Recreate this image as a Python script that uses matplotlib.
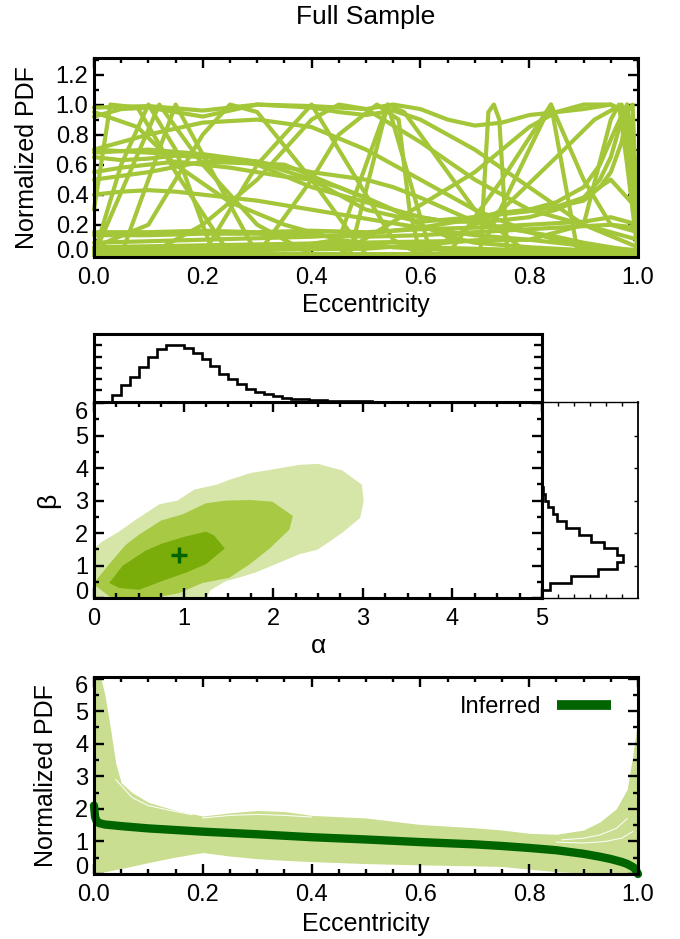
import matplotlib
matplotlib.use('Agg')
import matplotlib.pyplot as plt
from matplotlib.ticker import FixedLocator, MultipleLocator, FormatStrFormatter
from matplotlib.transforms import ScaledTranslation

FONT = ['Liberation Sans', 'DejaVu Sans']
plt.rcParams['font.family'] = FONT

# ---------------- data: top panel (individual normalized PDFs) ----------------
c01_e = [0, .1, .2, .3, .4, .5, .55, .6, .65, .7, .75, .8, .85, .9, .95, .97, 1.0]
c01_p = [.98, .99, .96, 1.0, .99, .97, 1.0, .97, .9, .86, .88, .93, .95, .97, 1.0, .95, .15]
c02_e = [0, .05, .1, .15, .2, .25, .3, .35, .4, .45, .5, .55, .6, .65, .7, .8, .9, 1.0]
c02_p = [.92, .97, .98, .95, .92, .96, 1.0, .99, .98, .95, .93, .96, .9, .8, .7, .45, .2, .05]
c03_e = [0, .05, .1, .15, .2, .3, .4, .5, .55, .6, .65, .7, .75, .8, .85, .9, .95, 1.0]
c03_p = [.65, .63, .64, .66, .65, .62, .55, .5, .45, .38, .3, .22, .18, .15, .12, .08, .05, .02]
c04_e = [0, .05, .1, .15, .2, .25, .3, .35, .4, .45, .5, .55, .6, .65, .7, .8, .9, 1.0]
c04_p = [.55, .58, .6, .62, .6, .58, .55, .52, .5, .45, .38, .3, .2, .12, .08, .05, .03, .02]
c05_e = [0, .05, .1, .15, .2, .3, .4, .5, .6, .7, .8, .9, 1.0]
c05_p = [.4, .42, .43, .42, .4, .36, .3, .24, .18, .13, .1, .06, .03]
c06_e = [0, .1, .2, .3, .4, .5, .6, .7, .8, .9, .95, 1.0]
c06_p = [.15, .15, .16, .15, .16, .15, .17, .18, .2, .22, .25, .2]
c07_e = [0, .1, .2, .3, .4, .5, .6, .7, .8, .9, .95, 1.0]
c07_p = [.13, .13, .14, .14, .13, .12, .13, .15, .17, .19, .2, .18]
c08_e = [0, .2, .4, .6, .8, 1.0]
c08_p = [.03, .05, .06, .05, .03, .01]
c09_e = [0, .1, .2, .3, .4, .5, .6, .7, .75, .8, .85, .9, .95, 1.0]
c09_p = [.08, .09, .1, .11, .12, .14, .18, .24, .27, .29, .32, .38, .5, .3]
c10_e = [0, .1, .2, .3, .4, .5, .6, .65, .7, .75, .8, .85, .9, .93, .95, .97, .98, 1.0]
c10_p = [.7, .68, .66, .6, .45, .35, .25, .22, .22, .23, .25, .3, .38, .5, .65, .9, 1.0, .0]
c11_e = [0, .1, .2, .3, .4, .5, .6, .7, .75, .8, .85, .9, .93, .95, .97, .98, .99, 1.0]
c11_p = [.68, .7, .67, .62, .5, .3, .22, .25, .28, .3, .32, .36, .45, .55, .75, .95, 1.0, .1]
c12_e = [0, .1, .2, .35, .45, .55, .6, .65, .7, .8, .85, .9, .93, .96, .98, 1.0]
c12_p = [.5, .55, .62, .6, .45, .3, .25, .22, .25, .3, .35, .45, .6, .85, 1.0, .5]
c13_e = [0, .03, .08, .15, .25, 1.0]
c13_p = [.3, 1.0, .98, .55, .0, .0]
c14_e = [0, .05, .1, .15, .22, 1.0]
c14_p = [0, .6, 1.0, .7, .0, .0]
c15_e = [0, .12, .2, .3, .4, 1.0]
c15_p = [0, 1.0, .6, .2, .0, .0]
c16_e = [0, .05, .15, .3, 1.0]
c16_p = [0, 0, 1.0, .0, .0]
c17_e = [0, .1, .2, .25, .3, .4, .5, 1.0]
c17_p = [.05, .2, .8, 1.0, .95, .5, .0, .0]
c18_e = [0, .2, .3, .4, .45, .55, .6, 1.0]
c18_p = [0, 0, .6, 1.0, .7, .1, .0, .0]
c19_e = [0, .3, .4, .45, .52, .56, .58, .6, 1.0]
c19_p = [0, 0, .5, .8, 1.0, .9, .3, .0, .0]
c20_e = [0, .47, .54, .62, 1.0]
c20_p = [0, 0, 1.0, .0, .0]
c21_e = [0, .3, .45, .54, .57, .7, .8, 1.0]
c21_p = [0, .02, .1, 1.0, .95, .3, .0, .0]
c22_e = [0, .71, .725, .735, .745, .76, 1.0]
c22_p = [0, 0, .95, 1.0, .9, .0, .0]
c23_e = [0, .65, .75, .84, .87, .89, 1.0]
c23_p = [0, 0, .5, 1.0, .4, .0, .0]
c24_e = [0, .5, .72, .84, .9, .95, 1.0]
c24_p = [.02, .04, .1, 1.0, .5, .2, .15]
c25_e = [0, .8, .9, .95, .965, .98, 1.0]
c25_p = [.05, .1, .2, .9, 1.0, .6, .0]
c26_e = [0, .6, .75, .85, .92, .97, .99, 1.0]
c26_p = [0, 0, .3, .65, .9, 1.0, .5, .0]
c27_e = [0, .08, .15, .25, .35, .45, .55, .7, 1.0]
c27_p = [.95, .85, .6, .35, .2, .1, .05, .02, .0]
c28_e = [0, .1, .2, .3, .35, .4, .45, .5, .6, .7, .8, 1.0]
c28_p = [0, 0, .2, .5, .7, .9, 1.0, .97, .75, .5, .3, .1]
c29_e = [0, .1, .2, .3, .4, .5, .6, .7, .8, .9, 1.0]
c29_p = [.7, .8, .88, .9, .85, .7, .5, .3, .15, .05, .0]
c30_e = [0, .45, .7, .8, .85, .9, .95, .98, 1.0]
c30_p = [0, 0, .55, .85, .95, 1.0, 1.0, .95, .3]

# ---------------- data: middle panel (alpha-beta credible regions) ----------------
outer_alpha = [0, 0, .09, .28, .47, .73, .93, 1.12, 1.37, 1.51, 1.75, 2.04, 2.29, 2.50, 2.77, 2.99, 3.01,
               2.97, 2.77, 2.50, 2.29, 2.02, 1.80, 1.60, 1.47, 1.30, 1.25]
outer_beta = [0, 1.53, 1.74, 2.05, 2.42, 2.89, 3.0, 3.34, 3.49, 3.64, 3.85, 3.98, 4.10, 4.13, 3.93, 3.49, 2.98,
              2.47, 2.01, 1.50, 1.35, 1.04, .79, .62, .53, .25, 0]
mid_alpha = [0, .17, .35, .50, .75, .99, 1.25, 1.47, 1.74, 1.99, 2.22, 2.18, 1.96, 1.74, 1.51, 1.21, .95,
             .65, .2, 0]
mid_beta = [.47, 1.05, 1.63, 1.95, 2.39, 2.58, 2.92, 3.0, 3.02, 2.97, 2.53, 2.11, 1.53, 1.05, .63, .47, .16,
            0, 0, .42]
inner_alpha = [.17, .32, .58, .76, 1.01, 1.25, 1.34, 1.46, 1.25, 1.03, .76, .50, .28]
inner_beta = [.47, 1.0, 1.47, 1.68, 1.89, 2.05, 1.93, 1.53, 1.05, .79, .53, .26, .32]
best_alpha = [0.95]
best_beta = [1.32]

# marginal histograms
alpha_edges = [.2, .3, .4, .5, .6, .7, .8, .9, 1.0, 1.1, 1.2, 1.3, 1.4, 1.5, 1.6, 1.7, 1.8, 1.9, 2.0, 2.1,
               2.2, 2.3, 2.4, 2.5, 2.6, 2.7, 2.8, 2.9, 3.0, 3.1, 3.2]
alpha_hist = [.56, 1.44, 2.21, 3.06, 3.94, 4.68, 5.06, 5.06, 4.76, 4.32, 3.79, 3.15, 2.47, 1.97, 1.53, 1.15,
              .85, .65, .47, .35, .26, .20, .15, .12, .09, .06, .05, .03, .02, .01]
beta_edges = [.27, .48, .69, .9, 1.11, 1.32, 1.53, 1.74, 1.95, 2.16, 2.37, 2.58, 2.79, 3.0, 3.21, 3.42, 3.63, 3.84]
beta_hist = [.5, 1.8, 3.48, 4.68, 5.04, 4.68, 3.9, 3.06, 2.34, 1.5, .96, .66, .36, .21, .08, .03, .01]

# ---------------- data: bottom panel ----------------
band_e = [0, .005, .01, .02, .03, .04, .05, .07, .1, .15, .2, .25, .3, .35, .4, .5, .6, .7, .75, .8, .85,
          .9, .93, .96, .98, .99, 1.0]
band_hi = [6.5, 6.5, 6.2, 5.5, 4.5, 3.4, 2.8, 2.5, 2.2, 1.95, 1.78, 1.88, 1.95, 1.92, 1.8, 1.72, 1.52, 1.42,
           1.35, 1.25, 1.22, 1.35, 1.6, 2.0, 2.6, 3.6, 4.8]
band_lo = [0, .02, .04, .07, .1, .14, .17, .24, .35, .52, .66, .55, .47, .42, .38, .32, .28, .25, .23, .15,
           .07, .03, .01, 0, 0, 0, 0]
gap1_e = [.04, .07, .1, .14, .18]
gap1_p = [2.9, 2.35, 2.1, 1.95, 1.82]
gap2_e = [.2, .25, .3, .35, .4]
gap2_p = [1.72, 1.8, 1.83, 1.8, 1.75]
gap3_e = [.86, .9, .93, .96, .98]
gap3_p = [1.05, 1.1, 1.2, 1.4, 1.7]
gap4_e = [.85, .9, .94, .97, .99]
gap4_p = [.98, .95, 1.0, 1.1, 1.3]
inf_e = [0, .002, .005, .01, .02, .05, .1, .2, .3, .4, .5, .6, .7, .75, .8, .85, .9, .93, .95, .97, .98,
         .99, .995, 1.0]
inf_p = [2.1, 1.75, 1.62, 1.56, 1.52, 1.47, 1.4, 1.3, 1.22, 1.13, 1.06, .98, .91, .86, .8, .73, .62, .53,
         .46, .37, .31, .22, .15, 0.0]

GREEN = '#a4c639'
BAND = '#c9de90'
LIGHT = '#d5e6a8'
MED = '#a8c943'
DARK = '#7bad0a'
DKGREEN = '#006400'

W, H = 680, 939
fig = plt.figure(figsize=(6.8, 9.39), dpi=100)

L, R, RM = 94, 638, 542  # left edge, right edge, right edge of the alpha-beta panel (pixels)


def rect(l, t, r, b):
    return [l / W, 1 - b / H, (r - l) / W, (b - t) / H]


def style(ax, lw=2.2):
    for s in ax.spines.values():
        s.set_linewidth(lw)
    ax.tick_params(which='both', direction='in', top=True, right=True, width=1.7, color='black')
    ax.tick_params(which='major', length=7.5)
    ax.tick_params(which='minor', length=3.8)
    ax.tick_params(axis='both', labelsize=17)
    ax.tick_params(axis='x', pad=7)
    ax.tick_params(axis='y', pad=4)


# ================= top panel =================
ax1 = fig.add_axes(rect(L, 58, R, 257))
curves = [(c01_e, c01_p), (c02_e, c02_p), (c03_e, c03_p), (c04_e, c04_p), (c05_e, c05_p), (c06_e, c06_p),
          (c07_e, c07_p), (c08_e, c08_p), (c09_e, c09_p), (c10_e, c10_p), (c11_e, c11_p), (c12_e, c12_p),
          (c13_e, c13_p), (c14_e, c14_p), (c15_e, c15_p), (c16_e, c16_p), (c17_e, c17_p), (c18_e, c18_p),
          (c19_e, c19_p), (c20_e, c20_p), (c21_e, c21_p), (c22_e, c22_p), (c23_e, c23_p), (c24_e, c24_p),
          (c25_e, c25_p), (c26_e, c26_p), (c27_e, c27_p), (c28_e, c28_p), (c29_e, c29_p), (c30_e, c30_p)]
for ce, cp in curves:
    ax1.plot(ce, cp, color=GREEN, lw=3.0, solid_capstyle='round', solid_joinstyle='round', clip_on=False, zorder=2)
ax1.set_xlim(0, 1)
ax1.set_ylim(-0.015, 1.31)
style(ax1)
ax1.xaxis.set_major_locator(FixedLocator([0, .2, .4, .6, .8, 1.0]))
ax1.xaxis.set_minor_locator(MultipleLocator(0.05))
ax1.yaxis.set_major_locator(FixedLocator([0, .2, .4, .6, .8, 1.0, 1.2]))
ax1.yaxis.set_minor_locator(MultipleLocator(0.1))
ax1.xaxis.set_major_formatter(FormatStrFormatter('%.1f'))
ax1.yaxis.set_major_formatter(FormatStrFormatter('%.1f'))
ax1.set_xlabel('Eccentricity', fontsize=18)
ax1.set_ylabel('Normalized PDF', fontsize=18)
ax1.xaxis.label.set_va('center')
ax1.yaxis.label.set_va('center')
ax1.xaxis.set_label_coords(0.5, -(305 - 257) / 199)
ax1.yaxis.set_label_coords(-(L - 27) / (R - L), 0.5)

fig.text((L + R) / 2 / W, 1 - 17 / H, 'Full Sample', ha='center', va='center', fontsize=19)

# ================= middle panel =================
axm = fig.add_axes(rect(L, 401.7, RM, 598.3))
axm.fill(outer_alpha, outer_beta, color=LIGHT, lw=0, zorder=1)
axm.fill(mid_alpha, mid_beta, color=MED, lw=0, zorder=1.1)
axm.fill(inner_alpha, inner_beta, color=DARK, lw=0, zorder=1.2)
axm.plot(best_alpha, best_beta, marker='+', ms=11, mew=2.5, color=DKGREEN, ls='none', zorder=3)
axm.set_xlim(0, 5)
axm.set_ylim(0, 6.04)
style(axm)
axm.xaxis.set_major_locator(FixedLocator([0, 1, 2, 3, 4, 5]))
axm.xaxis.set_minor_locator(MultipleLocator(0.25))
axm.yaxis.set_major_locator(FixedLocator([0, 1, 2, 3, 4, 5, 6]))
axm.yaxis.set_minor_locator(MultipleLocator(0.5))
axm.set_xlabel('α', fontsize=19)
axm.set_ylabel('β', fontsize=19)
axm.xaxis.label.set_va('center')
axm.yaxis.label.set_va('center')
axm.xaxis.set_label_coords(0.5, -(646 - 598.3) / 196.6)
axm.yaxis.set_label_coords(-(L - 48) / (RM - L), 0.5)

# top marginal
axt = fig.add_axes(rect(L, 334, RM, 401.7))
axt.stairs(alpha_hist, alpha_edges, color='black', lw=1.9, baseline=0)
axt.set_xlim(0, 5)
axt.set_ylim(0, 6)
for s in axt.spines.values():
    s.set_linewidth(2.2)
axt.tick_params(axis='x', which='both', bottom=False, top=False, labelbottom=False)
axt.tick_params(axis='y', which='both', left=True, right=True, direction='in', length=6, width=1.7,
                labelleft=False)
axt.yaxis.set_major_locator(FixedLocator([1, 2, 3, 4, 5]))

# right marginal
axr = fig.add_axes(rect(RM, 401.7, R, 598.3))
axr.stairs(beta_hist, beta_edges, orientation='horizontal', color='black', lw=1.9, baseline=0)
axr.set_xlim(0, 6)
axr.set_ylim(0, 6.04)
axr.spines['left'].set_linewidth(2.2)
axr.spines['right'].set_linewidth(1.3)
axr.spines['top'].set_linewidth(1.0)
axr.spines['bottom'].set_linewidth(1.0)
axr.tick_params(axis='x', which='both', bottom=True, top=True, direction='in', length=3, width=1.0,
                labelbottom=False)
axr.tick_params(axis='y', which='both', left=False, right=True, direction='in', length=3, width=1.0,
                labelleft=False)
axr.xaxis.set_major_locator(FixedLocator([1, 2, 3, 4, 5]))
axr.yaxis.set_major_locator(FixedLocator([1, 2, 3, 4, 5]))

# ================= bottom panel =================
axb = fig.add_axes(rect(L, 677.3, R, 874))
axb.fill_between(band_e, band_lo, band_hi, color=BAND, lw=0, zorder=1)
for ge, gp in [(gap1_e, gap1_p), (gap2_e, gap2_p), (gap3_e, gap3_p), (gap4_e, gap4_p)]:
    axb.plot(ge, gp, color='white', lw=0.8, alpha=0.9, zorder=1.1)
axb.plot(inf_e, inf_p, color=DKGREEN, lw=6, solid_capstyle='round', clip_on=False, zorder=2,
         label='Inferred')
axb.set_xlim(0, 1)
axb.set_ylim(0, 6.04)
style(axb)
axb.xaxis.set_major_locator(FixedLocator([0, .2, .4, .6, .8, 1.0]))
axb.xaxis.set_minor_locator(MultipleLocator(0.05))
axb.yaxis.set_major_locator(FixedLocator([0, 1, 2, 3, 4, 5, 6]))
axb.yaxis.set_minor_locator(MultipleLocator(0.5))
axb.xaxis.set_major_formatter(FormatStrFormatter('%.1f'))
axb.set_xlabel('Eccentricity', fontsize=18)
axb.set_ylabel('Normalized PDF', fontsize=18)
axb.xaxis.label.set_va('center')
axb.yaxis.label.set_va('center')
axb.xaxis.set_label_coords(0.5, -(924 - 874) / 196.7)
axb.yaxis.set_label_coords(-(L - 46) / (R - L), 0.5)
leg = axb.legend(loc='upper right', bbox_to_anchor=((611 - L) / (R - L), (874 - 696) / 196.7), frameon=False,
                 markerfirst=False, fontsize=17, handlelength=2.3, handletextpad=0.65, borderpad=0,
                 borderaxespad=0)
for hl in leg.get_lines():
    hl.set_solid_capstyle('butt')
    hl.set_linewidth(7)

# shift edge tick labels inward like the original
fig.canvas.draw()


def shift(ax, idx, dy_px):
    t = ax.yaxis.get_major_ticks()[idx]
    t.label1.set_transform(t.label1.get_transform() + ScaledTranslation(0, dy_px / 100, fig.dpi_scale_trans))


shift(ax1, 0, 5)
shift(axm, 0, 8)
shift(axm, -1, -7)
shift(axb, 0, 8)
shift(axb, -1, -6)

fig.savefig('out.png', dpi=100)
